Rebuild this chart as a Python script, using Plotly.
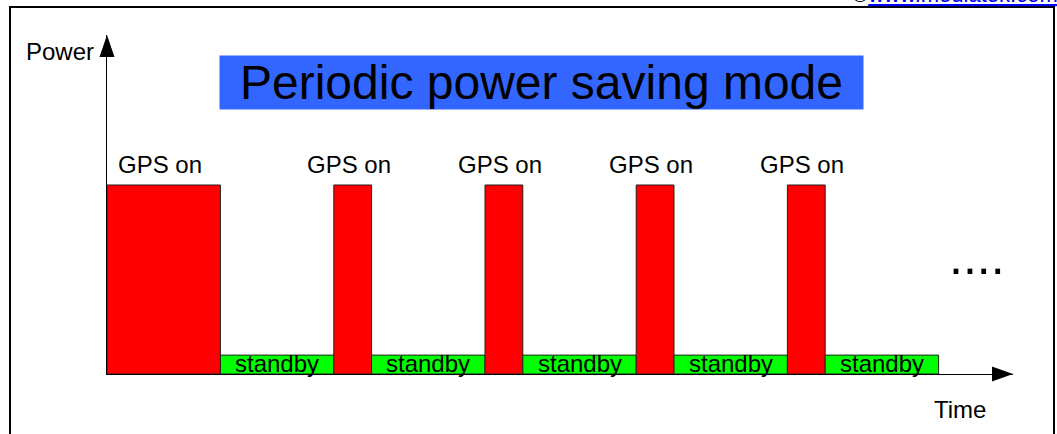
import plotly.graph_objects as go

# ---------------- data ----------------
phases = ["on", "standby", "on", "standby", "on", "standby", "on", "standby", "on", "standby"]
durations = [3, 3, 1, 3, 1, 3, 1, 3, 1, 3]          # time units
power_levels = {"on": 10, "standby": 1}
phase_labels = {"on": "GPS on", "standby": "standby"}
phase_colors = {"on": "#FF0000", "standby": "#00FF00"}

title_text = "Periodic power saving mode"
y_label = "Power"
x_label = "Time"
ellipsis = "...."
credit = "www.mediatek.com"

# ---------------- geometry (layout only) ----------------
W, H = 1057, 434
ML, MR, MT, MB = 107, 44, 35, 60
PW, PH = W - ML - MR, H - MT - MB
X_UNIT_PX, Y_UNIT_PX = 37.8, 18.9
X_MAX = PW / X_UNIT_PX
Y_MAX = PH / Y_UNIT_PX


def px_x(px):
    return (px - ML) / PW


def px_y(py):
    return (H - MB - py) / PH


FONT = "Liberation Sans, Arial, sans-serif"

# ---------------- bars ----------------
starts = []
t = 0
for d in durations:
    starts.append(t)
    t += d
centers = [s + d / 2 for s, d in zip(starts, durations)]
heights = [power_levels[p] for p in phases]
colors = [phase_colors[p] for p in phases]

fig = go.Figure()
fig.add_trace(go.Bar(
    x=centers, y=heights, width=durations, base=0,
    marker=dict(color=colors, line=dict(color="#202020", width=1)),
    hoverinfo="skip", showlegend=False,
))

annotations = []
for c, h, p in zip(centers, heights, phases):
    if p == "on":
        annotations.append(dict(
            x=c, y=h, xref="x", yref="y", text=phase_labels[p], showarrow=False,
            yanchor="bottom", xanchor="center", yshift=5, xshift=-4,
            font=dict(family=FONT, size=24, color="black")))
    else:
        annotations.append(dict(
            x=c, y=h / 2, xref="x", yref="y", text=phase_labels[p], showarrow=False,
            yanchor="middle", xanchor="center", yshift=1,
            font=dict(family=FONT, size=24, color="black")))

# title box
annotations.append(dict(
    x=px_x(541.5), y=px_y(82.5), xref="paper", yref="paper", text=title_text,
    showarrow=False, xanchor="center", yanchor="middle",
    width=643, height=53, borderpad=0, bgcolor="#3366FF",
    font=dict(family=FONT, size=48, color="black")))

# axis labels
annotations.append(dict(
    x=px_x(96), y=px_y(51.7), xref="paper", yref="paper", text=y_label,
    showarrow=False, xanchor="right", yanchor="middle",
    font=dict(family=FONT, size=24, color="black")))
annotations.append(dict(
    x=px_x(960), y=px_y(409.4), xref="paper", yref="paper", text=x_label,
    showarrow=False, xanchor="center", yanchor="middle",
    font=dict(family=FONT, size=24, color="black")))
annotations.append(dict(
    x=px_x(977), y=px_y(257), xref="paper", yref="paper", text=ellipsis,
    showarrow=False, xanchor="center", yanchor="middle",
    font=dict(family=FONT, size=50, color="black")))
annotations.append(dict(
    x=px_x(850), y=px_y(8.7), xref="paper", yref="paper",
    text="<span style='color:black'>©</span><u>" + credit + "</u>",
    showarrow=False, xanchor="left", yanchor="bottom",
    font=dict(family=FONT, size=22, color="#0000FF")))

shapes = [
    # frame
    dict(type="rect", xref="paper", yref="paper",
         x0=px_x(10), x1=px_x(1054), y0=px_y(445), y1=px_y(7),
         line=dict(color="black", width=2), fillcolor="rgba(0,0,0,0)", layer="above"),
    # y arrowhead (at top of y axis)
    dict(type="path", xref="paper", yref="paper", xsizemode="pixel", ysizemode="pixel",
         xanchor=0, yanchor=1, path="M-7.5,-22 L0,0 L7.5,-22 Z",
         fillcolor="black", line=dict(width=0), layer="above"),
    # x arrowhead (at end of x axis)
    dict(type="path", xref="paper", yref="paper", xsizemode="pixel", ysizemode="pixel",
         xanchor=1, yanchor=0, path="M-21,7.5 L0,0 L-21,-7.5 Z",
         fillcolor="black", line=dict(width=0), layer="above"),
]

fig.update_layout(
    width=W, height=H,
    margin=dict(l=ML, r=MR, t=MT, b=MB),
    paper_bgcolor="white", plot_bgcolor="white",
    annotations=annotations, shapes=shapes,
    xaxis=dict(range=[0, X_MAX], showgrid=False, zeroline=False, showticklabels=False,
               ticks="", showline=True, linecolor="black", linewidth=1, fixedrange=True),
    yaxis=dict(range=[0, Y_MAX], showgrid=False, zeroline=False, showticklabels=False,
               ticks="", showline=True, linecolor="black", linewidth=1, fixedrange=True),
    showlegend=False,
)

fig.write_html("out.html", config={"displayModeBar": False},
               post_script="document.body.style.margin='0';document.body.style.overflow='hidden';")
